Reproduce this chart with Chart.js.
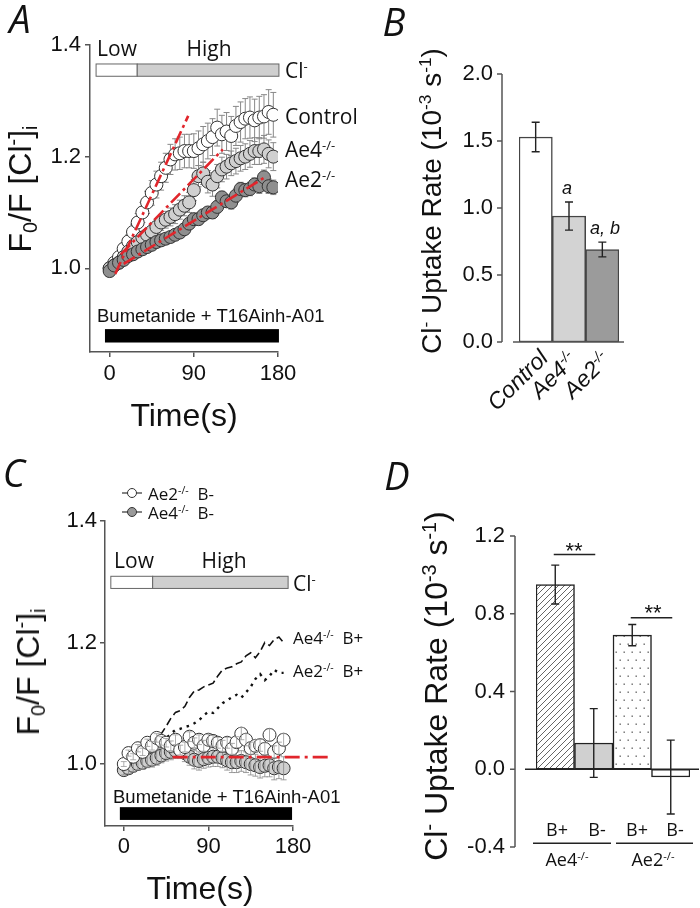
<!DOCTYPE html>
<html>
<head>
<meta charset="utf-8">
<script src="https://cdn.jsdelivr.net/npm/chart.js@4.4.1/dist/chart.umd.min.js"></script>
<style>
  body { margin: 0; background: #fff; }
  #fig { position: relative; width: 700px; height: 908px; overflow: hidden;
         font-family: "Liberation Sans", Arial, Helvetica, sans-serif; color: #111; }
  canvas { position: absolute; }
  .t { position: absolute; white-space: nowrap; line-height: 1; }
  .os { font-family: "Open Sans", sans-serif; }
  .c { transform: translate(-50%, -50%); }
  .l { transform: translateY(-50%); }
  .r90 { transform: translate(-50%, -50%) rotate(-90deg); }
  .r45 { transform-origin: 100% 50%; transform: translate(-100%, -50%) rotate(-45deg); }
  .it { font-style: italic; }
  .letter { font-family: "Open Sans", sans-serif; font-style: italic; font-size: 38px; }
  .sp { font-size: .62em; position: relative; top: -.55em; }
  .sb { font-size: .62em; position: relative; top: .3em; }
</style>
</head>
<body>
<div id="fig">
  <canvas id="cA" width="350" height="440" style="left:0;top:0"></canvas>
  <canvas id="cB" width="350" height="440" style="left:350px;top:0"></canvas>
  <canvas id="cC" width="350" height="468" style="left:0;top:440px"></canvas>
  <canvas id="cD" width="350" height="468" style="left:350px;top:440px"></canvas>

  <!-- panel A -->
  <div class="t c letter" style="left:20px;top:18px">A</div>
  <div class="t r90" style="left:20px;top:189px;font-size:32px">F<span class="sb">0</span>/F [Cl<span class="sp">-</span>]<span class="sb">i</span></div>
  <div class="t c" style="left:184px;top:415px;font-size:32px">Time(s)</div>
  <div class="t c os" style="left:117px;top:48px;font-size:21px">Low</div>
  <div class="t c os" style="left:209px;top:48px;font-size:21px">High</div>
  <div class="t l os" style="left:285px;top:70px;font-size:21px">Cl<span class="sp">-</span></div>
  <div class="t l os" style="left:285px;top:116px;font-size:21px">Control</div>
  <div class="t l os" style="left:285px;top:149px;font-size:21px">Ae4<span class="sp">-/-</span></div>
  <div class="t l os" style="left:285px;top:179px;font-size:21px">Ae2<span class="sp">-/-</span></div>
  <div class="t l" style="left:97px;top:316px;font-size:18.5px">Bumetanide + T16Ainh-A01</div>

  <!-- panel B -->
  <div class="t c letter" style="left:394px;top:21px">B</div>
  <div class="t r90" style="left:432px;top:201px;font-size:28px">Cl<span class="sp">-</span> Uptake Rate (10<span class="sp">-3</span> s<span class="sp">-1</span>)</div>
  <div class="t c it" style="left:567px;top:188px;font-size:18px">a</div>
  <div class="t c it" style="left:605px;top:228px;font-size:18px">a, b</div>
  <div class="t r45 it" style="left:544px;top:354px;font-size:23px">Control</div>
  <div class="t r45 it" style="left:573px;top:356px;font-size:23px">Ae4<span class="sp">-/-</span></div>
  <div class="t r45 it" style="left:606px;top:356px;font-size:23px">Ae2<span class="sp">-/-</span></div>

  <!-- panel C -->
  <div class="t c letter" style="left:14px;top:472px">C</div>
  <svg style="position:absolute;left:118px;top:484px" width="28" height="38">
    <line x1="4" y1="9" x2="24" y2="9" stroke="#333" stroke-width="1.2"/>
    <circle cx="14" cy="9" r="4.5" fill="#fff" stroke="#333" stroke-width="1"/>
    <line x1="4" y1="28" x2="24" y2="28" stroke="#333" stroke-width="1.2"/>
    <circle cx="14" cy="28" r="4.5" fill="#999" stroke="#333" stroke-width="1"/>
  </svg>
  <div class="t l os" style="left:148px;top:493px;font-size:17px">Ae2<span class="sp">-/-</span>&nbsp; B-</div>
  <div class="t l os" style="left:148px;top:512px;font-size:17px">Ae4<span class="sp">-/-</span>&nbsp; B-</div>
  <div class="t c os" style="left:134px;top:560px;font-size:21px">Low</div>
  <div class="t c os" style="left:224px;top:560px;font-size:21px">High</div>
  <div class="t l os" style="left:293px;top:583px;font-size:21px">Cl<span class="sp">-</span></div>
  <div class="t l os" style="left:293px;top:637px;font-size:17px">Ae4<span class="sp">-/-</span>&nbsp; B+</div>
  <div class="t l os" style="left:293px;top:670px;font-size:17px">Ae2<span class="sp">-/-</span>&nbsp; B+</div>
  <div class="t l" style="left:113px;top:797px;font-size:18.5px">Bumetanide + T16Ainh-A01</div>
  <div class="t r90" style="left:28px;top:672px;font-size:32px">F<span class="sb">0</span>/F [Cl<span class="sp">-</span>]<span class="sb">i</span></div>
  <div class="t c" style="left:200px;top:888px;font-size:32px">Time(s)</div>

  <!-- panel D -->
  <div class="t c letter" style="left:397px;top:475px">D</div>
  <div class="t r90" style="left:436px;top:686px;font-size:32px">Cl<span class="sp">-</span> Uptake Rate (10<span class="sp">-3</span> s<span class="sp">-1</span>)</div>
  <div class="t c" style="left:574px;top:551px;font-size:22px">**</div>
  <div class="t c" style="left:653px;top:613px;font-size:22px">**</div>
  <div class="t c os" style="left:557px;top:829px;font-size:18px">B+</div>
  <div class="t c os" style="left:597px;top:829px;font-size:18px">B-</div>
  <div class="t c os" style="left:637px;top:829px;font-size:18px">B+</div>
  <div class="t c os" style="left:675px;top:829px;font-size:18px">B-</div>
  <div class="t c os" style="left:567px;top:859px;font-size:18px">Ae4<span class="sp">-/-</span></div>
  <div class="t c os" style="left:653px;top:859px;font-size:18px">Ae2<span class="sp">-/-</span></div>
</div>

<script>
// ---- panel A: uptake traces (F0/F vs time) ----
const TIME_A = [0, 5, 10, 15, 20, 25, 30, 35, 40, 45, 50, 55, 60, 65, 70, 75, 80, 85,
                90, 95, 100, 105, 110, 115, 120, 125, 130, 135, 140, 145, 150, 155, 160, 165, 170, 175];
const CONTROL_A = [1.000, 1.010, 1.020, 1.035, 1.048, 1.065, 1.082, 1.100, 1.118, 1.135, 1.150, 1.165,
                   1.180, 1.195, 1.204, 1.206, 1.210, 1.210, 1.210, 1.215, 1.222, 1.228, 1.235, 1.252,
                   1.240, 1.245, 1.237, 1.255, 1.262, 1.268, 1.270, 1.265, 1.270, 1.272, 1.280, 1.275];
const CONTROL_A_ERR = [0.004, 0.006, 0.008, 0.010, 0.012, 0.014, 0.016, 0.018, 0.020, 0.022, 0.024, 0.025,
                       0.026, 0.027, 0.028, 0.029, 0.030, 0.030, 0.031, 0.031, 0.032, 0.032, 0.033, 0.033,
                       0.034, 0.034, 0.035, 0.035, 0.036, 0.036, 0.037, 0.038, 0.038, 0.039, 0.040, 0.040];
const AE4_A = [1.000, 1.005, 1.010, 1.020, 1.030, 1.040, 1.047, 1.055, 1.060, 1.066, 1.074, 1.082,
               1.087, 1.092, 1.097, 1.105, 1.112, 1.118, 1.140, 1.165, 1.170, 1.155, 1.150, 1.165,
               1.177, 1.182, 1.188, 1.192, 1.197, 1.200, 1.205, 1.210, 1.210, 1.213, 1.205, 1.200];
const AE4_A_ERR = [0.003, 0.004, 0.005, 0.006, 0.007, 0.008, 0.009, 0.010, 0.011, 0.012, 0.013, 0.014,
                   0.015, 0.016, 0.017, 0.017, 0.018, 0.018, 0.019, 0.019, 0.020, 0.020, 0.021, 0.021,
                   0.022, 0.022, 0.022, 0.023, 0.023, 0.023, 0.024, 0.024, 0.024, 0.025, 0.025, 0.025];
const AE2_A = [0.995, 1.005, 1.010, 1.015, 1.022, 1.025, 1.030, 1.034, 1.038, 1.042, 1.047, 1.050,
               1.053, 1.056, 1.060, 1.064, 1.070, 1.080, 1.088, 1.088, 1.095, 1.100, 1.100, 1.110,
               1.127, 1.120, 1.118, 1.130, 1.142, 1.140, 1.142, 1.150, 1.147, 1.163, 1.147, 1.145];
const AE2_A_ERR = [0.002, 0.003, 0.003, 0.004, 0.004, 0.005, 0.005, 0.006, 0.006, 0.007, 0.007, 0.007,
                   0.008, 0.008, 0.008, 0.009, 0.009, 0.009, 0.010, 0.010, 0.010, 0.010, 0.011, 0.011,
                   0.011, 0.011, 0.012, 0.012, 0.012, 0.012, 0.012, 0.012, 0.013, 0.013, 0.013, 0.013];
// linear fits (start / end of the red dashed lines)
const FIT_CONTROL_A = [{x: 6, y: 0.990}, {x: 84, y: 1.273}];
const FIT_AE4_A = [{x: 12, y: 1.025}, {x: 121, y: 1.213}];
const FIT_AE2_A = [{x: 15, y: 1.008}, {x: 168, y: 1.165}];
const X_TICKS = [0, 90, 180];
const Y_TICKS_AC = [1.0, 1.2, 1.4];
// solution / drug timing (s) and bar heights (F0/F units)
const LOW_A = [-14.5, 29.5], HIGH_A = [29.5, 181], DRUG_A = [-5, 181];
const SOL_Y_A = [1.344, 1.366], DRUG_Y_A = [0.867, 0.891];

// ---- panel B: uptake rate ----
const B_GROUPS = ['Control', 'Ae4-/-', 'Ae2-/-'];
const B_RATE = [1.53, 0.94, 0.69];
const B_ERR = [0.11, 0.105, 0.055];
const B_TICKS = [0.0, 0.5, 1.0, 1.5, 2.0];

// ---- panel C: B- traces, B+ mean traces ----
const TIME_C = [0, 5, 10, 15, 20, 25, 30, 35, 40, 45, 50, 55, 60, 65, 70, 75, 80, 85,
                90, 95, 100, 105, 110, 115, 120, 125, 130, 135, 140, 145, 150, 155, 160, 165, 170];
const AE2_BM_C = [1.000, 1.018, 1.012, 1.026, 1.020, 1.035, 1.030, 1.043, 1.038, 1.035, 1.030, 1.040,
                  1.023, 1.028, 1.045, 1.035, 1.040, 1.030, 1.040, 1.038, 1.035, 1.030, 1.035, 1.025,
                  1.036, 1.050, 1.040, 1.026, 1.030, 1.031, 1.025, 1.048, 1.020, 1.026, 1.040];
const AE2_BM_C_ERR = [0.004, 0.005, 0.005, 0.006, 0.006, 0.006, 0.007, 0.007, 0.007, 0.007, 0.008, 0.008,
                      0.008, 0.008, 0.008, 0.008, 0.008, 0.009, 0.009, 0.009, 0.009, 0.009, 0.009, 0.009,
                      0.009, 0.010, 0.010, 0.010, 0.010, 0.010, 0.010, 0.010, 0.010, 0.010, 0.010];
const AE4_BM_C = [0.990, 0.993, 0.997, 1.000, 1.002, 1.005, 1.007, 1.010, 1.014, 1.018, 1.020, 1.022,
                  1.023, 1.018, 1.012, 1.007, 1.005, 1.008, 1.010, 1.012, 1.012, 1.010, 1.006, 1.003,
                  1.003, 1.005, 1.003, 1.000, 0.998, 0.995, 0.997, 0.998, 0.993, 0.995, 0.993];
const AE4_BM_C_ERR = [0.008, 0.009, 0.010, 0.010, 0.011, 0.011, 0.012, 0.012, 0.012, 0.013, 0.013, 0.013,
                      0.014, 0.014, 0.014, 0.015, 0.015, 0.015, 0.015, 0.016, 0.016, 0.016, 0.016, 0.017,
                      0.017, 0.017, 0.017, 0.018, 0.018, 0.018, 0.018, 0.019, 0.019, 0.019, 0.019];
const AE4_BP_C = [1.000, 1.002, 1.005, 1.010, 1.015, 1.020, 1.030, 1.040, 1.050, 1.062, 1.075, 1.085,
                  1.088, 1.095, 1.110, 1.120, 1.122, 1.127, 1.130, 1.133, 1.145, 1.155, 1.158, 1.160,
                  1.165, 1.168, 1.178, 1.183, 1.175, 1.185, 1.200, 1.195, 1.205, 1.209, 1.200];
const AE2_BP_C = [0.998, 1.000, 1.003, 1.008, 1.012, 1.018, 1.022, 1.028, 1.035, 1.042, 1.050, 1.056,
                  1.058, 1.061, 1.063, 1.067, 1.072, 1.080, 1.086, 1.084, 1.092, 1.100, 1.105, 1.110,
                  1.114, 1.109, 1.118, 1.127, 1.140, 1.148, 1.138, 1.145, 1.155, 1.150, 1.150];
const FIT_C = [{x: 52, y: 1.0115}, {x: 221, y: 1.0115}];
const LOW_C = [-13.8, 30.7], HIGH_C = [30.7, 174.8], DRUG_C = [-4.2, 179];
const SOL_Y_C = [1.289, 1.309], DRUG_Y_C = [0.908, 0.929];

// ---- panel D: uptake rate with / without bumetanide ----
const D_BARS = ['B+', 'B-', 'B+', 'B-'];
const D_RATE = [0.95, 0.135, 0.69, -0.04];
const D_ERR = [0.10, 0.177, 0.055, 0.19];
const D_TICKS = [-0.4, 0.0, 0.4, 0.8, 1.2];
const D_SIG = [{from: 0, to: 1, y: 1.105}, {from: 2, to: 3, y: 0.78}];
const D_GROUP_Y = -0.381;

const AX = '#555';
const FONT = '"Liberation Sans", Arial, Helvetica, sans-serif';
const RED = '#e1262c';

const pts = (xs, ys) => xs.map((x, i) => ({x: x, y: ys[i]}));

/**
 * draws vertical error bars with caps for datasets that carry an "errors" array
 */
function drawErr(chart, args) {
    const ds = chart.data.datasets[args.index];
    if (!ds.errors) return;
    const ctx = chart.ctx, ys = chart.scales.y, cap = ds.capHalf || 3;
    ctx.save();
    ctx.strokeStyle = ds.errorColor || '#222';
    ctx.lineWidth = ds.errorWidth || 1;
    ctx.beginPath();
    args.meta.data.forEach((el, i) => {
        const raw = ds.data[i];
        const v = typeof raw === 'object' ? raw.y : raw;
        const t = ys.getPixelForValue(v + ds.errors[i]);
        const b = ys.getPixelForValue(v - ds.errors[i]);
        ctx.moveTo(el.x, t); ctx.lineTo(el.x, b);
        ctx.moveTo(el.x - cap, t); ctx.lineTo(el.x + cap, t);
        ctx.moveTo(el.x - cap, b); ctx.lineTo(el.x + cap, b);
    });
    ctx.stroke();
    ctx.restore();
}

const errorBars = {
    id: 'errorBars',
    beforeDatasetDraw(chart, args) {
        if (!chart.data.datasets[args.index].errorFront) drawErr(chart, args);
    },
    afterDatasetDraw(chart, args) {
        if (chart.data.datasets[args.index].errorFront) drawErr(chart, args);
    }
};

function band(chart, xr, yr, fill, stroke) {
    const ctx = chart.ctx, xs = chart.scales.x, ys = chart.scales.y;
    const l = xs.getPixelForValue(xr[0]), r = xs.getPixelForValue(xr[1]);
    const t = ys.getPixelForValue(yr[1]), b = ys.getPixelForValue(yr[0]);
    ctx.save();
    ctx.fillStyle = fill;
    ctx.fillRect(l, t, r - l, b - t);
    if (stroke) {
        ctx.strokeStyle = stroke;
        ctx.lineWidth = 1;
        ctx.strokeRect(l, t, r - l, b - t);
    }
    ctx.restore();
}

function line(ctx, x0, y0, x1, y1) {
    ctx.beginPath();
    ctx.moveTo(x0, y0);
    ctx.lineTo(x1, y1);
    ctx.stroke();
}

function axis(min, max, tickVals, fit, pad, digits) {
    return {
        type: 'linear', min: min, max: max,
        afterBuildTicks: s => { s.ticks = tickVals.map(v => ({value: v})); },
        afterFit: s => { if (s.isHorizontal()) s.height = fit; else s.width = fit; },
        border: {color: AX, width: 1.5},
        grid: {drawOnChartArea: false, tickLength: 5, color: AX, lineWidth: 1.5},
        ticks: {
            font: {family: FONT, size: 22}, color: '#111', padding: pad,
            autoSkip: false, maxRotation: 0,
            callback: v => digits == null ? String(v) : v.toFixed(digits)
        }
    };
}

function barAxis(min, max, tickVals, fit, pad) {
    const a = axis(min, max, tickVals, fit, pad, 1);
    a.border = {display: false};
    a.grid = {display: false, drawTicks: false};
    return a;
}

const baseOpts = (padding) => ({
    responsive: false,
    animation: false,
    layout: {padding: padding},
    plugins: {legend: {display: false}, tooltip: {enabled: false}}
});

function scatterSet(xs, ys, errs, fill, order, errColor, front) {
    return {
        type: 'scatter', data: pts(xs, ys), errors: errs, errorColor: errColor, errorFront: front,
        capHalf: 3, errorWidth: front ? 0.8 : 1, backgroundColor: fill, borderColor: '#333', borderWidth: 1,
        pointRadius: 6.5, pointHoverRadius: 6.5, order: order
    };
}

function fitSet(data, order) {
    return {
        type: 'line', data: data, borderColor: RED, borderWidth: 2.6,
        borderDash: [13, 4, 3, 4], pointRadius: 0, order: order, clip: false
    };
}

// ---------- A ----------
const optsA = baseOpts({left: 0, top: 45, right: 72, bottom: 48});
optsA.scales = {x: axis(-21, 180, X_TICKS, 40, 4), y: axis(0.85, 1.4, Y_TICKS_AC, 90, 4, 1)};
new Chart(document.getElementById('cA'), {
    type: 'scatter',
    data: {datasets: [
        fitSet(FIT_CONTROL_A, 0), fitSet(FIT_AE4_A, 0), fitSet(FIT_AE2_A, 0),
        scatterSet(TIME_A, AE2_A, AE2_A_ERR, '#8f8f8f', 1, '#888', false),
        scatterSet(TIME_A, AE4_A, AE4_A_ERR, '#d0d0d0', 2, '#888', false),
        scatterSet(TIME_A, CONTROL_A, CONTROL_A_ERR, '#ffffff', 3, '#888', false)
    ]},
    options: optsA,
    plugins: [errorBars, {
        id: 'decorA',
        afterDraw(c) {
            band(c, LOW_A, SOL_Y_A, '#ffffff', '#666');
            band(c, HIGH_A, SOL_Y_A, '#cfcfcf', '#666');
            band(c, DRUG_A, DRUG_Y_A, '#000000');
        }
    }]
});

// ---------- B ----------
const optsB = baseOpts({left: 0, top: 74, right: 81, bottom: 98});
optsB.scales = {
    x: {type: 'category', display: false},
    y: barAxis(0, 2, B_TICKS, 169, 26)
};
new Chart(document.getElementById('cB'), {
    type: 'bar',
    data: {
        labels: B_GROUPS,
        datasets: [{
            data: B_RATE, errors: B_ERR, errorFront: true, capHalf: 4, errorWidth: 1.4, errorColor: '#222',
            backgroundColor: ['#ffffff', '#d3d3d3', '#9b9b9b'], borderColor: '#444', borderWidth: 1.5,
            borderSkipped: false, barPercentage: 1, categoryPercentage: 1
        }]
    },
    options: optsB,
    plugins: [errorBars, {
        id: 'decorB',
        afterDraw(c) {
            const ctx = c.ctx, a = c.chartArea, y = c.scales.y, ax = a.left - 17;
            ctx.save();
            ctx.strokeStyle = AX;
            ctx.lineWidth = 1.5;
            line(ctx, ax, y.getPixelForValue(2), ax, y.getPixelForValue(0));
            B_TICKS.forEach(v => line(ctx, ax - 5, y.getPixelForValue(v), ax, y.getPixelForValue(v)));
            line(ctx, a.left - 6, y.getPixelForValue(0), a.right + 5, y.getPixelForValue(0));
            ctx.restore();
        }
    }]
});

// ---------- C ----------
const optsC = baseOpts({left: 0, top: 81, right: 57, bottom: 42});
optsC.scales = {x: axis(-20, 180, X_TICKS, 40, 3), y: axis(0.898, 1.4, Y_TICKS_AC, 105, 3, 1)};
new Chart(document.getElementById('cC'), {
    type: 'scatter',
    data: {datasets: [
        Object.assign(fitSet(FIT_C, 0), {borderWidth: 2.8, borderDash: [15, 5, 3, 5]}),
        scatterSet(TIME_C, AE2_BM_C, AE2_BM_C_ERR, '#ffffff', 1, '#999', true),
        scatterSet(TIME_C, AE4_BM_C, AE4_BM_C_ERR, '#cfcfcf', 2, '#888', true),
        {type: 'line', data: pts(TIME_C, AE4_BP_C), borderColor: '#111', borderWidth: 1.6,
         borderDash: [8, 4], pointRadius: 0, order: 3},
        {type: 'line', data: pts(TIME_C, AE2_BP_C), borderColor: '#111', borderWidth: 2.4,
         borderDash: [2.5, 5], pointRadius: 0, order: 4}
    ]},
    options: optsC,
    plugins: [errorBars, {
        id: 'decorC',
        afterDraw(c) {
            band(c, LOW_C, SOL_Y_C, '#ffffff', '#666');
            band(c, HIGH_C, SOL_Y_C, '#cfcfcf', '#666');
            band(c, DRUG_C, DRUG_Y_C, '#000000');
        }
    }]
});

// ---------- D ----------
function hatch() {
    const p = document.createElement('canvas');
    p.width = 6; p.height = 6;
    const g = p.getContext('2d');
    g.fillStyle = '#fff'; g.fillRect(0, 0, 6, 6);
    g.strokeStyle = '#555'; g.lineWidth = 0.9;
    g.beginPath();
    g.moveTo(-1, 7); g.lineTo(7, -1);
    g.moveTo(-4, 4); g.lineTo(4, -4);
    g.moveTo(2, 10); g.lineTo(10, 2);
    g.stroke();
    return g.createPattern(p, 'repeat');
}
function dots() {
    const p = document.createElement('canvas');
    p.width = 8; p.height = 16;
    const g = p.getContext('2d');
    g.fillStyle = '#fff'; g.fillRect(0, 0, 8, 16);
    g.fillStyle = '#666';
    g.fillRect(1.5, 3.5, 1.4, 1.4);
    g.fillRect(5.5, 11.5, 1.4, 1.4);
    return g.createPattern(p, 'repeat');
}

const optsD = baseOpts({left: 0, top: 96, right: 10, bottom: 61});
optsD.scales = {
    x: {type: 'category', display: false},
    y: barAxis(-0.4, 1.2, D_TICKS, 186, 31)
};
new Chart(document.getElementById('cD'), {
    type: 'bar',
    data: {
        labels: D_BARS,
        datasets: [{
            data: D_RATE, errors: D_ERR, errorFront: true, capHalf: 4, errorWidth: 1.4, errorColor: '#222',
            backgroundColor: [hatch(), '#d0d0d0', dots(), '#ffffff'], borderColor: '#222', borderWidth: 1.5,
            borderSkipped: false, barPercentage: 1, categoryPercentage: 1
        }]
    },
    options: optsD,
    plugins: [errorBars, {
        id: 'decorD',
        afterDraw(c) {
            const ctx = c.ctx, a = c.chartArea, y = c.scales.y, ax = a.left - 21;
            const bars = c.getDatasetMeta(0).data;
            ctx.save();
            ctx.strokeStyle = AX;
            ctx.lineWidth = 1.5;
            line(ctx, ax, y.getPixelForValue(1.2), ax, y.getPixelForValue(-0.4));
            D_TICKS.forEach(v => line(ctx, ax - 5, y.getPixelForValue(v), ax, y.getPixelForValue(v)));
            ctx.strokeStyle = '#222';
            line(ctx, a.left - 11, y.getPixelForValue(0), a.right + 9, y.getPixelForValue(0));
            D_SIG.forEach(s => {
                const py = y.getPixelForValue(s.y);
                line(ctx, bars[s.from].x - 1.5, py, bars[s.to].x + 1.5, py);
            });
            // group underlines (Ae4 / Ae2)
            const mid = bars[1].x + bars[1].width / 2, gy = y.getPixelForValue(D_GROUP_Y);
            line(ctx, bars[0].x - bars[0].width / 2 - 3, gy, mid - 2, gy);
            line(ctx, mid + 3, gy, bars[3].x + bars[3].width / 2 + 3, gy);
            ctx.restore();
        }
    }]
});
</script>
</body>
</html>
